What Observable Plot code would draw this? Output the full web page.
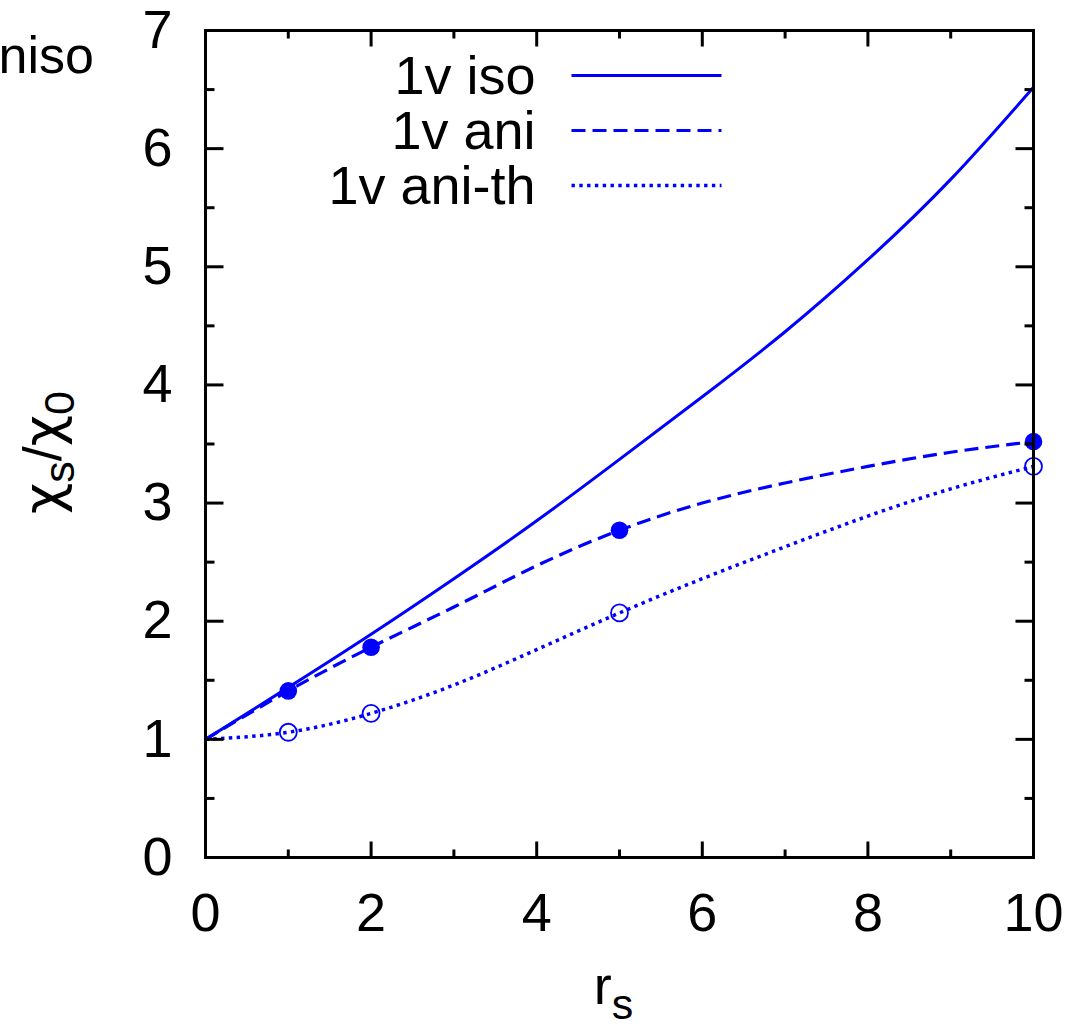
<!DOCTYPE html>
<html><head><meta charset="utf-8">
<script src="https://cdn.jsdelivr.net/npm/d3@7"></script>
<script src="https://cdn.jsdelivr.net/npm/@observablehq/plot@0.6"></script>
<style>body{margin:0;background:#fff}</style>
</head><body><div id="chart"></div>
<script>
// ---- data ----
const rs      = [0, 1, 2, 3, 4, 5, 6, 7, 8, 9, 10];
const iso     = [1.00, 1.44, 1.89, 2.36, 2.85, 3.37, 3.90, 4.45, 5.06, 5.74, 6.52];
const ani     = [1.00, 1.41, 1.78, 2.12, 2.47, 2.77, 3.00, 3.17, 3.31, 3.43, 3.52];
const aniTh   = [1.00, 1.06, 1.22, 1.46, 1.76, 2.07, 2.36, 2.63, 2.89, 3.12, 3.31];
const pointRs     = [1, 2, 5, 10];
const aniPoints   = [1.41, 1.78, 2.77, 3.52];
const aniThPoints = [1.06, 1.22, 2.07, 3.31];
const xMajor = [0, 2, 4, 6, 8, 10];
const xMinor = [1, 3, 5, 7, 9];
const yMajor = [0, 1, 2, 3, 4, 5, 6, 7];
const yMinor = [0.5, 1.5, 2.5, 3.5, 4.5, 5.5, 6.5];
const legendLabels = ["1v iso", "1v ani", "1v ani-th"];
const cornerLabel = "niso";
const X_LABEL = "rs";
const Y_LABEL = "χs/χ0";

const BLUE = "#0000ff";
const dashes = [null, "14,7", "3.4,4.4"];
const widths = [3, 3.2, 3.5];
const series = [iso, ani, aniTh];

const seg = {draw(ctx, l) { ctx.moveTo(0, 0); ctx.lineTo(0, -l); }};
const tickStyle = {shape: seg, anchor: "start", stroke: "black", strokeWidth: 3, strokeLinecap: "butt"};

function xTicks(vals, len) {
  return [
    Plot.vector(vals, {x: d => d, frameAnchor: "bottom", rotate: 0, length: len, ...tickStyle}),
    Plot.vector(vals, {x: d => d, frameAnchor: "top", rotate: 180, length: len, ...tickStyle})
  ];
}
function yTicks(vals, len) {
  return [
    Plot.vector(vals, {y: d => d, frameAnchor: "left", rotate: 90, length: len, ...tickStyle}),
    Plot.vector(vals, {y: d => d, frameAnchor: "right", rotate: 270, length: len, ...tickStyle})
  ];
}

const lineMarks = series.map((s, i) => Plot.line(rs.map((x, j) => ({x, y: s[j]})), {
  x: "x", y: "y", curve: "natural", stroke: BLUE, strokeWidth: widths[i],
  strokeDasharray: dashes[i], strokeLinecap: "butt"
}));

const FS = 54;
const legendRowsDy = [46, 101, 156];
const legendMarks = legendLabels.flatMap((lab, i) => [
  Plot.text([lab], {text: d => d, frameAnchor: "top-left", dx: 330, dy: legendRowsDy[i],
    textAnchor: "end", lineAnchor: "middle", fontSize: FS, fill: "black"}),
  Plot.vector([lab], {frameAnchor: "top-left", dx: 366, dy: legendRowsDy[i] - 1, rotate: 90, length: 150,
    shape: seg, anchor: "start", stroke: BLUE, strokeWidth: widths[i], strokeLinecap: "butt",
    strokeDasharray: dashes[i]})
]);

const chart = Plot.plot({
  width: 1083,
  height: 1027,
  marginLeft: 205,
  marginRight: 50,
  marginTop: 30,
  marginBottom: 170,
  style: {fontFamily: "'Liberation Sans', Arial, sans-serif", fontSize: FS + "px", background: "white", overflow: "visible", color: "black"},
  x: {domain: [0, 10]},
  y: {domain: [0, 7]},
  marks: [
    ...lineMarks,
    Plot.dot(pointRs.map((x, j) => ({x, y: aniPoints[j]})), {x: "x", y: "y", r: 8.8, fill: BLUE, stroke: "none"}),
    Plot.dot(pointRs.map((x, j) => ({x, y: aniThPoints[j]})), {x: "x", y: "y", r: 8.5, fill: "none", stroke: BLUE, strokeWidth: 1.8}),
    Plot.frame({stroke: "black", strokeWidth: 3}),
    ...xTicks(xMajor, 16), ...xTicks(xMinor, 8),
    ...yTicks(yMajor, 18), ...yTicks(yMinor, 9),
    Plot.axisX({ticks: xMajor, tickSize: 0, tickPadding: 35, fontSize: FS, label: null, tickFormat: d => String(d)}),
    Plot.axisY({ticks: yMajor, tickSize: 0, tickPadding: 33, fontSize: FS, label: null, tickFormat: d => String(d)}),
    ...legendMarks,
    Plot.text([X_LABEL], {text: d => d, frameAnchor: "bottom", dx: -6, dy: 146, textAnchor: "middle", lineAnchor: "bottom", fontSize: FS}),
    Plot.text([Y_LABEL], {text: d => d, frameAnchor: "left", dx: -145, dy: 8.5, rotate: -90, textAnchor: "middle", lineAnchor: "bottom", fontSize: FS}),
    Plot.text([cornerLabel], {text: d => d, frameAnchor: "top-left", dx: -207, dy: 42, textAnchor: "start", lineAnchor: "bottom", fontSize: 52})
  ]
});
document.getElementById("chart").appendChild(chart);

// subscripts as tspans
function setParts(content, parts, shiftPx) {
  const t = Array.from(chart.querySelectorAll("text")).find(e => e.textContent === content);
  if (!t) return;
  t.textContent = "";
  let shift = 0;
  for (const [txt, sub] of parts) {
    const ts = document.createElementNS("http://www.w3.org/2000/svg", "tspan");
    const target = sub ? shiftPx : 0;
    ts.setAttribute("dy", target - shift);
    shift = target;
    if (sub) ts.setAttribute("font-size", "43");
    if (txt === "χ") ts.setAttribute("font-family", "'DejaVu Sans', sans-serif");
    ts.textContent = txt;
    t.appendChild(ts);
  }
}
setParts(X_LABEL, [["r", false], ["s", true]], 15);
setParts(Y_LABEL, [["χ", false], ["s", true], ["/", false], ["χ", false], ["0", true]], 13);
</script>
</body></html>
